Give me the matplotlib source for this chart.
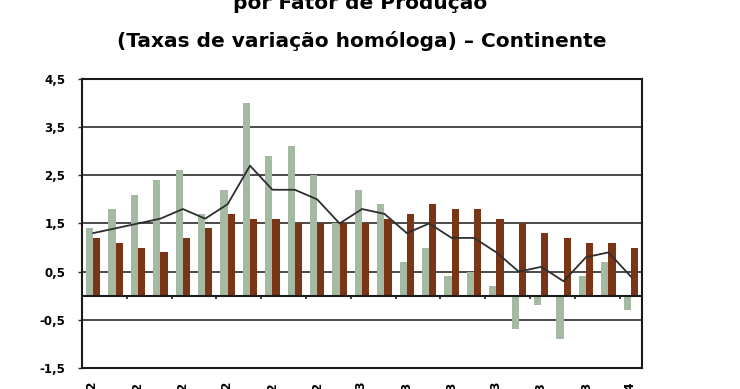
import numpy as np
import matplotlib.pyplot as plt

# dados (taxas de variacao homologa, %)
months = ["jan-12", "fev-12", "mar-12", "abr-12", "mai-12", "jun-12", "jul-12", "ago-12",
          "set-12", "out-12", "nov-12", "dez-12", "jan-13", "fev-13", "mar-13", "abr-13",
          "mai-13", "jun-13", "jul-13", "ago-13", "set-13", "out-13", "nov-13", "dez-13",
          "jan-14"]
greenVals = [1.4, 1.8, 2.1, 2.4, 2.6, 1.7, 2.2, 4.0, 2.9, 3.1, 2.5, 1.5, 2.2,
             1.9, 0.7, 1.0, 0.4, 0.5, 0.2, -0.7, -0.2, -0.9, 0.4, 0.7, -0.3]
brownVals = [1.2, 1.1, 1.0, 0.9, 1.2, 1.4, 1.7, 1.6, 1.6, 1.5, 1.5, 1.5, 1.5,
             1.6, 1.7, 1.9, 1.8, 1.8, 1.6, 1.5, 1.3, 1.2, 1.1, 1.1, 1.0]
totalVals = [1.3, 1.4, 1.5, 1.6, 1.8, 1.6, 1.9, 2.7, 2.2, 2.2, 2.0, 1.5, 1.8,
             1.7, 1.3, 1.5, 1.2, 1.2, 0.9, 0.5, 0.6, 0.3, 0.8, 0.9, 0.4]
yTicks = [-1.5, -0.5, 0.5, 1.5, 2.5, 3.5, 4.5]

x = np.arange(len(months))

fig = plt.figure(figsize=(7.4, 3.89), dpi=100)
ax = fig.add_axes([0.1108, 0.054, 0.7568, 0.743])

ax.bar(x - 0.16, greenVals, width=0.32, color="#a5baa3", zorder=3)
ax.bar(x + 0.16, brownVals, width=0.32, color="#7a3517", zorder=3)
ax.plot(x, totalVals, color="#2e2e2e", linewidth=1.3, zorder=4)

# eixos
ax.set_xlim(-0.5, len(months) - 0.5)
ax.set_ylim(-1.5, 4.5)
ax.set_yticks(yTicks)
ax.set_yticklabels([str(v).replace(".", ",") for v in yTicks],
                   fontsize=8.5, fontweight="bold")
ax.yaxis.grid(True, color="#2b2b2b", linewidth=1.2, zorder=0)
ax.tick_params(axis="y", length=3, width=1, pad=9, color="#2b2b2b")

ax.set_xticks(x[::2])
ax.set_xticklabels(months[::2], rotation=90, fontsize=8.5, fontweight="bold", va="top")
ax.tick_params(axis="x", length=0, pad=10)

for side in ["left", "right", "top", "bottom"]:
    ax.spines[side].set_linewidth(1.5)
    ax.spines[side].set_color("#1a1a1a")

# linha do zero com pequenos tracos
ax.axhline(0, color="#1a1a1a", linewidth=1.5, zorder=5)
ax.vlines(x[::2] - 0.5, -0.07, 0, color="#1a1a1a", linewidth=1.2, zorder=5)

# titulo
fig.text(0.4865, 0.9756, "por Fator de Produção", ha="center", va="baseline",
         fontsize=14.5, fontweight="bold")
fig.text(0.4885, 0.878, "(Taxas de variação homóloga) – Continente", ha="center",
         va="baseline", fontsize=14.5, fontweight="bold")

fig.savefig("out.png", dpi=100)
